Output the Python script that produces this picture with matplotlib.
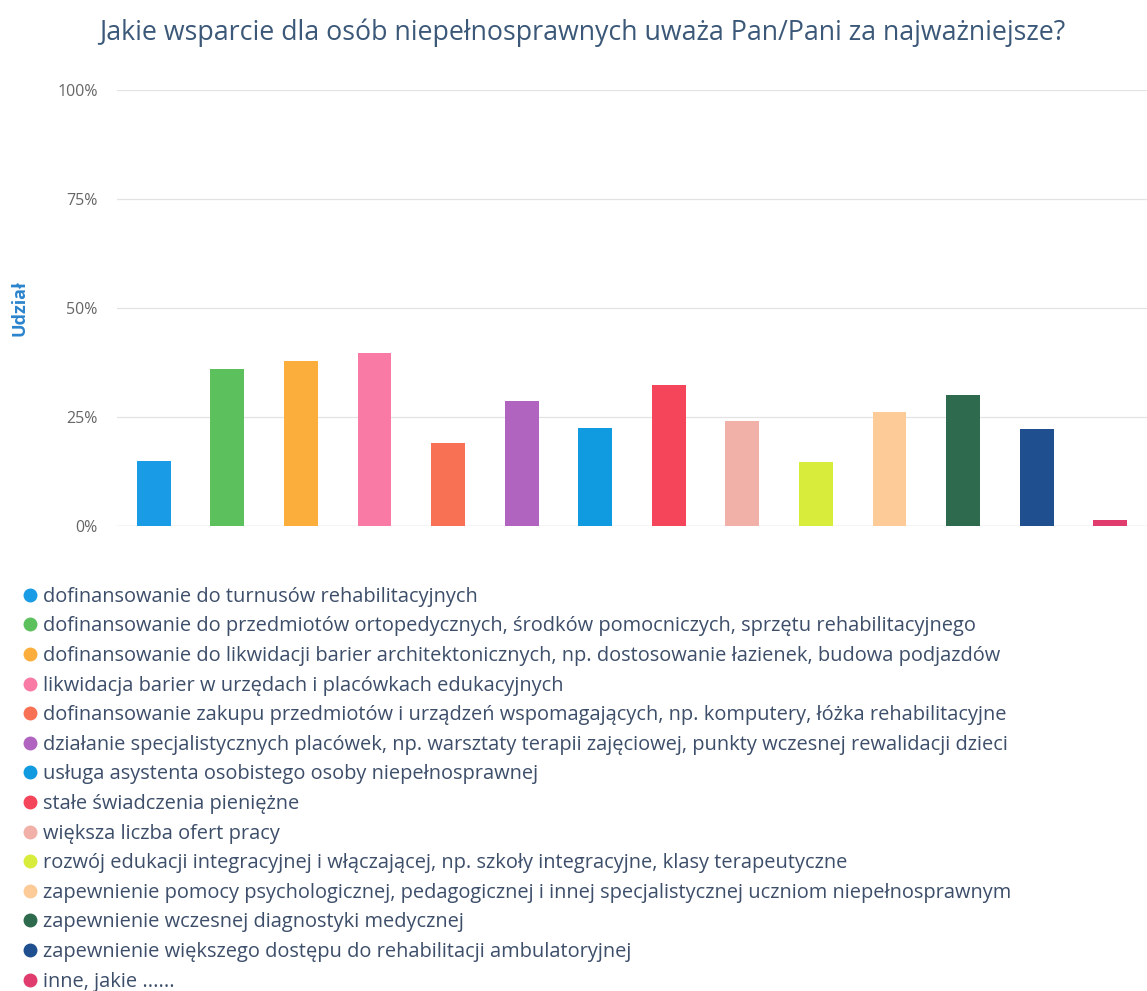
import matplotlib
matplotlib.use("Agg")
import matplotlib.pyplot as plt
from matplotlib.lines import Line2D

title = "Jakie wsparcie dla osób niepełnosprawnych uważa Pan/Pani za najważniejsze?"
ylabel = "Udział"
categories = [
    "dofinansowanie do turnusów rehabilitacyjnych",
    "dofinansowanie do przedmiotów ortopedycznych, środków pomocniczych, sprzętu rehabilitacyjnego",
    "dofinansowanie do likwidacji barier architektonicznych, np. dostosowanie łazienek, budowa podjazdów",
    "likwidacja barier w urzędach i placówkach edukacyjnych",
    "dofinansowanie zakupu przedmiotów i urządzeń wspomagających, np. komputery, łóżka rehabilitacyjne",
    "działanie specjalistycznych placówek, np. warsztaty terapii zajęciowej, punkty wczesnej rewalidacji dzieci",
    "usługa asystenta osobistego osoby niepełnosprawnej",
    "stałe świadczenia pieniężne",
    "większa liczba ofert pracy",
    "rozwój edukacji integracyjnej i włączającej, np. szkoły integracyjne, klasy terapeutyczne",
    "zapewnienie pomocy psychologicznej, pedagogicznej i innej specjalistycznej uczniom niepełnosprawnym",
    "zapewnienie wczesnej diagnostyki medycznej",
    "zapewnienie większego dostępu do rehabilitacji ambulatoryjnej",
    "inne, jakie ......",
]
values = [15.0, 36.0, 38.0, 39.7, 19.0, 28.8, 22.5, 32.5, 24.2, 14.8, 26.3, 30.2, 22.3, 1.4]
colors = ["#1a9be6", "#5cc05c", "#fbae3c", "#f87aa5", "#f97155", "#b064c0", "#109ae0",
          "#f5455a", "#f1b0a8", "#d8ec3c", "#fccb98", "#2e6a4d", "#1f4f8f", "#e03c6e"]
yticks = [0, 25, 50, 75, 100]
ytick_labels = ["0%", "25%", "50%", "75%", "100%"]

plt.rcParams['font.family'] = ['Open Sans', 'DejaVu Sans']

fig = plt.figure(figsize=(11.47, 9.91), dpi=100)
ax = fig.add_axes([0.102, 0.469, 0.898, 0.440])

x = list(range(len(values)))
ax.bar(x, values, width=0.46, color=colors, zorder=3)
ax.set_xlim(-0.5, len(values) - 0.5)
ax.set_ylim(0, 100)
ax.set_yticks(yticks)
ax.set_yticklabels(ytick_labels, color="#666666", fontsize=11.5)
ax.set_xticks([])
ax.tick_params(axis='y', length=0, pad=14)
ax.grid(axis='y', color="#e3e3e3", linewidth=0.9, zorder=0)
for s in ax.spines.values():
    s.set_visible(False)
ax.axhline(0, color="#dddddd", linewidth=1.0, zorder=2)

fig.text(20 / 1147, 1 - 308 / 991, ylabel, rotation=90, ha="center", va="center",
         color="#2a84cc", fontsize=13, fontweight="bold")

fig.text(0.508, 0.967, title, ha="center", va="center", fontsize=19.3, color="#3b5878")

handles = [Line2D([0], [0], marker='o', linestyle='None', markersize=9,
                  markerfacecolor=c, markeredgecolor=c) for c in colors]
leg = fig.legend(handles, categories, loc="upper left", bbox_to_anchor=(0.008, 0.418),
                 frameon=False, fontsize=14.4, labelspacing=0.48, handletextpad=0.1,
                 handlelength=1.1, borderpad=0)
for t in leg.get_texts():
    t.set_color("#3d4e6a")

fig.savefig("out.png", dpi=100, facecolor="white")
